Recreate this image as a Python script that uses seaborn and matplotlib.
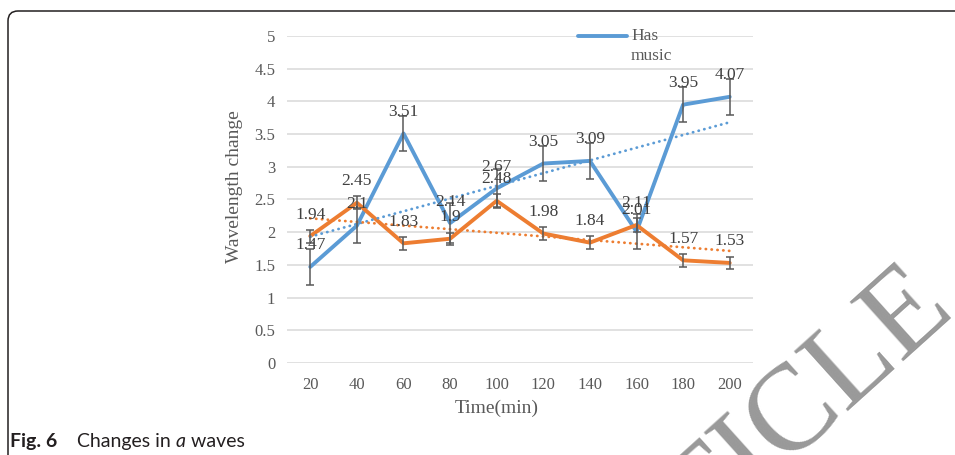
import numpy as np
import matplotlib.pyplot as plt
import seaborn as sns
from matplotlib.lines import Line2D
from matplotlib.patches import FancyBboxPatch

#%% Data

times = ["20", "40", "60", "80", "100", "120", "140", "160", "180", "200"]

has_music = [1.47, 2.1, 3.51, 2.14, 2.67, 3.05, 3.09, 2.01, 3.95, 4.07]
has_music_err = [0.28, 0.27, 0.27, 0.3, 0.3, 0.27, 0.27, 0.27, 0.27, 0.28]

no_music = [1.94, 2.45, 1.83, 1.9, 2.48, 1.98, 1.84, 2.11, 1.57, 1.53]
no_music_err = [0.1, 0.1, 0.1, 0.09, 0.1, 0.1, 0.1, 0.1, 0.1, 0.09]

BLUE = "#5B9BD5"
ORANGE = "#ED7D31"
GREY = "#595959"

#%% Style

sns.set_style("white")
plt.rcParams['font.family'] = ['Liberation Serif', 'DejaVu Serif']

fig = plt.figure(figsize=(9.55, 4.55), dpi=100)
ax = fig.add_axes([0.3005, 0.2022, 0.488, 0.7187])

pos = np.arange(len(times))

#%% Series, trendlines and error bars

for vals, errs, col in [(has_music, has_music_err, BLUE),
                        (no_music, no_music_err, ORANGE)]:
    sns.lineplot(x=pos, y=vals, color=col, linewidth=2.8, sort=False,
                 ax=ax, zorder=3)
    sns.regplot(x=pos, y=vals, scatter=False, ci=None, ax=ax,
                line_kws=dict(color=col, linestyle=(0, (0.1, 2.0)),
                              linewidth=2.0, dash_capstyle='round',
                              zorder=3.5))
    ax.errorbar(pos, vals, yerr=errs, fmt='none', ecolor=GREY,
                elinewidth=1.1, capsize=3.2, capthick=1.1, zorder=4)
    for i, v in enumerate(vals):
        ax.annotate(f"{v:g}", (i, v), xytext=(0, 15.5),
                    textcoords='offset points', ha='center', va='center',
                    fontsize=12.5, color='#404040', zorder=6)

#%% Axes cosmetics

ax.set_xlim(-0.5, len(times) - 0.5)
ax.set_ylim(0, 5)
yt = np.arange(0, 5.01, 0.5)
ax.set_yticks(yt)
ax.set_yticklabels([f"{v:g}" for v in yt])
ax.set_xticks(pos)
ax.set_xticklabels(times)
ax.yaxis.grid(True, color='#D9D9D9', linewidth=1.1)
ax.xaxis.grid(False)
ax.set_axisbelow(True)
for s in ax.spines.values():
    s.set_visible(False)
ax.tick_params(axis='both', length=0, colors=GREY, labelsize=12)
ax.tick_params(axis='y', pad=8.5)
ax.tick_params(axis='x', pad=10)

ax.set_ylabel("Wavelength change", fontsize=14, color=GREY, va='center')
ax.yaxis.set_label_coords(-0.1116, 0.538)
ax.set_xlabel("Time(min)", fontsize=14, color=GREY, va='center')
ax.xaxis.set_label_coords(0.449, -0.1376)

# legend (only one entry visible in the original)
fig.add_artist(Line2D([0.6052, 0.6565], [0.9209, 0.9209], color=BLUE,
                      linewidth=2.8, transform=fig.transFigure))
fig.text(0.6607, 0.9209, "Has", fontsize=12.5, color=GREY, va='center')
fig.text(0.6607, 0.8770, "music", fontsize=12.5, color=GREY, va='center')

#%% Frame, caption, watermark

frame = FancyBboxPatch((0.08, -0.3), 10.0, 4.74,
                       boxstyle="round,pad=0,rounding_size=0.1",
                       transform=fig.dpi_scale_trans, fill=False,
                       edgecolor='#231F20', linewidth=1.1)
fig.add_artist(frame)

fig.text(1.002, 0.315, "ARTICLE", rotation=42, rotation_mode='anchor',
         ha='right', va='baseline', fontsize=88, color='#999999',
         family=['Liberation Serif'])

cap_parts = [("Fig. 6", 'bold', 'normal', 20),
             ("Changes in ", 'normal', 'normal', 0),
             ("a", 'normal', 'italic', 0),
             (" waves", 'normal', 'normal', 0)]
fig.canvas.draw()
renderer = fig.canvas.get_renderer()
x = 10
for txt, wt, st, gap in cap_parts:
    t = fig.text(x / 955, 1 - 447 / 455, txt, fontsize=14, weight=wt,
                 style=st, color='#231F20', va='baseline',
                 family=['Lato', 'DejaVu Sans'])
    bb = t.get_window_extent(renderer)
    x = bb.x1 + gap

plt.savefig("out.png", dpi=100)
